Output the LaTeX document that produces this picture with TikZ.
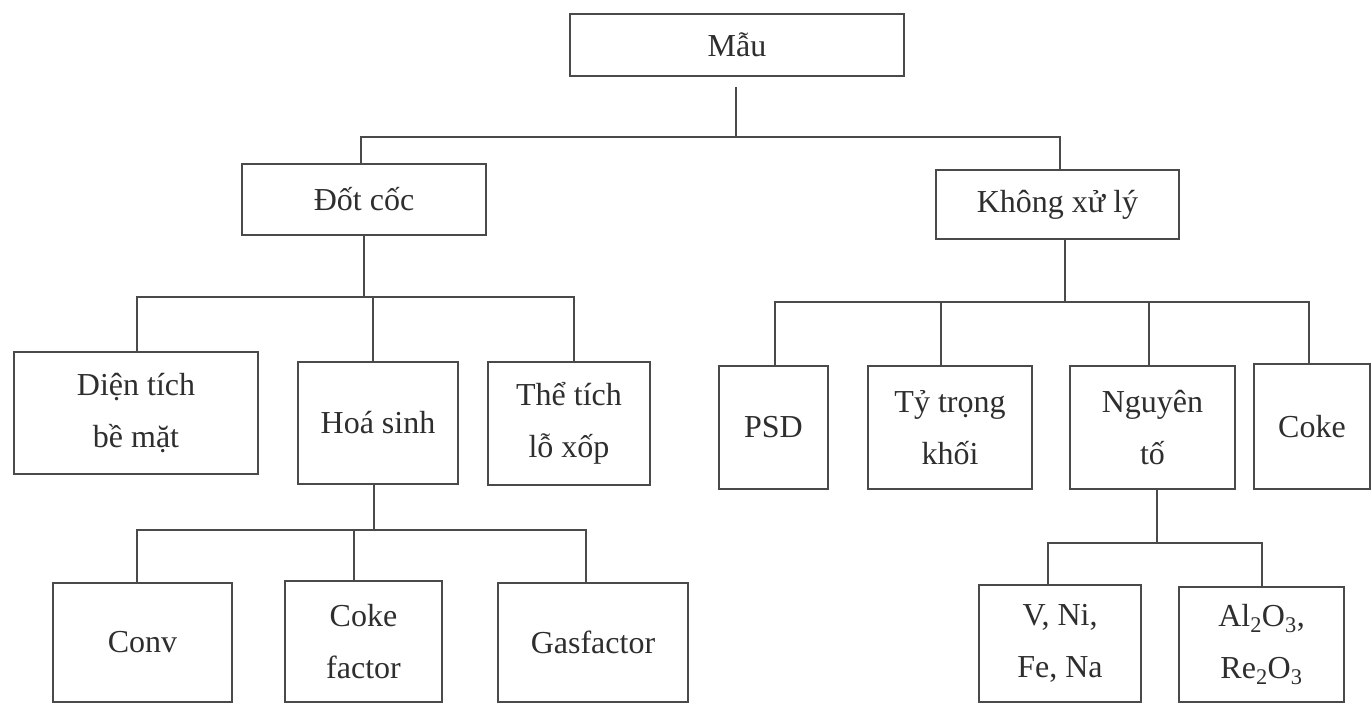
\documentclass[tikz,border=0pt]{standalone}
\usepackage{fontspec}
\setmainfont{Liberation Serif}
\definecolor{inkline}{HTML}{4A4A4A}
\definecolor{inktext}{HTML}{2E2E2E}
\begin{document}
\begin{tikzpicture}[x=1pt,y=-1pt,
  box/.style={draw=inkline, line width=1.6pt, align=center, inner sep=0pt,
    text=inktext, font=\fontsize{32}{52}\selectfont},
  link/.style={draw=inkline, line width=1.5pt}]
\useasboundingbox[fill=white] (0,0) rectangle (1372,704);

% level 0
\node[box, minimum width=334pt, minimum height=62pt] (mau) at (737,45) {Mẫu};

% level 1
\node[box, minimum width=244pt, minimum height=71pt] (dot) at (364,199.5) {Đốt cốc};
\node[box, minimum width=243pt, minimum height=69pt] (khong) at (1057.5,204.5) {Không xử lý};

% level 2, left branch
\node[box, minimum width=244pt, minimum height=122pt] (dien) at (136,413) {Diện tích\\bề mặt};
\node[box, minimum width=160pt, minimum height=122pt] (hoa) at (378,423) {Hoá sinh};
\node[box, minimum width=162pt, minimum height=123pt] (the) at (569,423.5) {Thể tích\\lỗ xốp};

% level 2, right branch
\node[box, minimum width=109pt, minimum height=123pt] (psd) at (773.5,427.5) {PSD};
\node[box, minimum width=164pt, minimum height=123pt] (ty) at (950,427.5) {Tỷ trọng\\khối};
\node[box, minimum width=165pt, minimum height=123pt] (nguyen) at (1152.5,427.5) {Nguyên\\tố};
\node[box, minimum width=116pt, minimum height=125pt] (coke) at (1312,426.5) {Coke};

% level 3
\node[box, minimum width=179pt, minimum height=119pt] (conv) at (142.5,642.5) {Conv};
\node[box, minimum width=157pt, minimum height=121pt] (cokef) at (363.5,641.5) {Coke\\factor};
\node[box, minimum width=190pt, minimum height=119pt] (gas) at (593,642.5) {Gasfactor};
\node[box, minimum width=162pt, minimum height=117pt] (vni) at (1060,643.5) {V, Ni,\\Fe, Na};
\node[box, minimum width=165pt, minimum height=115pt] (al) at (1261.5,644.5)
  {Al\textsubscript{2}O\textsubscript{3},\\Re\textsubscript{2}O\textsubscript{3}};

% connectors from the root (the stem starts a little below the box)
\coordinate (m0) at ([xshift=-1pt,yshift=-10pt]mau.south);
\coordinate (m1) at (736,137);
\draw[link] (m0) -- (m1);
\draw[link] ([xshift=-3pt]dot.north) |- (m1) -| ([xshift=2.5pt]khong.north);

% Đốt cốc group
\coordinate (d1) at (364,297);
\draw[link] (dot.south) -- (d1);
\draw[link] ([xshift=1pt]dien.north) |- (d1) -| ([xshift=5pt]the.north);
\draw[link] (d1) -| ([xshift=-5pt]hoa.north);

% Không xử lý group
\coordinate (k1) at (1065,302);
\draw[link] ([xshift=7.5pt]khong.south) -- (k1);
\draw[link] ([xshift=1.5pt]psd.north) |- (k1) -| ([xshift=-3pt]coke.north);
\draw[link] (k1) -| ([xshift=-9pt]ty.north);
\draw[link] (k1) -| ([xshift=-3.5pt]nguyen.north);

% Hoá sinh group
\coordinate (h1) at (374,530);
\draw[link] ([xshift=-4pt]hoa.south) -- (h1);
\draw[link] ([xshift=-5.5pt]conv.north) |- (h1) -| ([xshift=-7pt]gas.north);
\draw[link] (h1) -| ([xshift=-9.5pt]cokef.north);

% Nguyên tố group
\coordinate (n1) at (1157,543);
\draw[link] ([xshift=4.5pt]nguyen.south) -- (n1);
\draw[link] ([xshift=-12pt]vni.north) |- (n1) -| ([xshift=0.5pt]al.north);
\end{tikzpicture}
\end{document}
